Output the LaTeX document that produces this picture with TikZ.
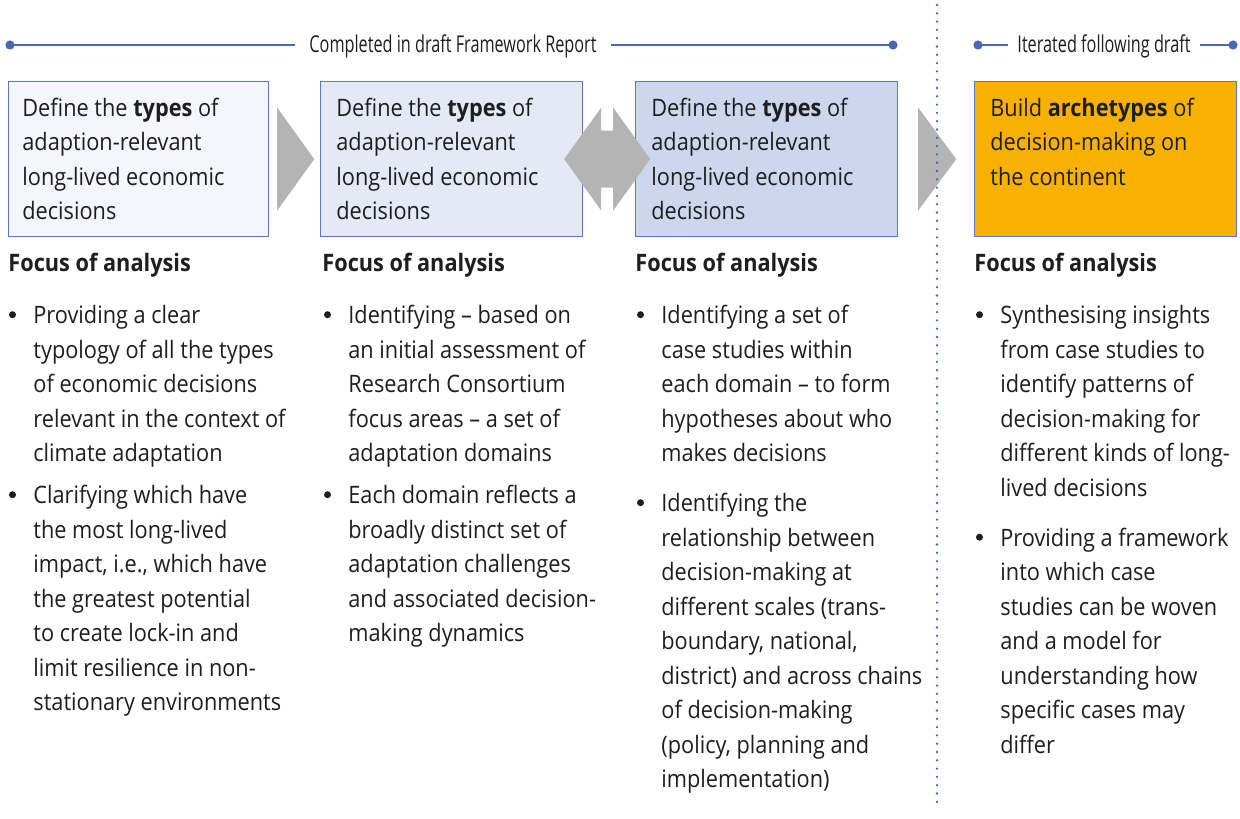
\documentclass[tikz,border=0pt]{standalone}
\usepackage{fontspec}
\setmainfont{Open Sans}[FakeStretch=0.905]
\newfontfamily\condfont{Open Sans}[FakeStretch=0.7]
\usepackage{xcolor}
\usetikzlibrary{positioning,calc}

\definecolor{lineblue}{HTML}{4A66B6}
\definecolor{boxblue}{HTML}{5C78C2}
\definecolor{fillA}{HTML}{F4F6FB}
\definecolor{fillB}{HTML}{E4E9F5}
\definecolor{fillC}{HTML}{CCD7EE}
\definecolor{fillD}{HTML}{F8B100}
\definecolor{arrgray}{HTML}{B4B4B4}
\definecolor{txtcol}{HTML}{1E1E1E}

\tikzset{
    box/.style={draw=boxblue, line width=0.6pt, anchor=north west, minimum width=131pt, minimum height=77.5pt, inner sep=0pt},
    boxtext/.style={anchor=north west, align=left, inner sep=0pt, text=txtcol, font=\fontsize{12}{17.25}\selectfont},
    head/.style={anchor=base west, inner sep=0pt, text=txtcol, font=\fontsize{12}{17.25}\selectfont\bfseries},
    item/.style={boxtext},
    bul/.style={circle, fill=txtcol, inner sep=0pt, minimum size=3.5pt},
    hdr/.style={anchor=base, inner xsep=7pt, inner ysep=0pt, text=txtcol, font=\condfont\fontsize{11.6}{13}\selectfont},
    hdrline/.style={lineblue, line width=1.25pt},
    hdrdot/.style={circle, fill=lineblue, inner sep=0pt, minimum size=4.6pt},
    garrow/.style={fill=arrgray},
}

\begin{document}
\begin{tikzpicture}[x=0.5pt,y=-0.5pt]
    \useasboundingbox (0,0) rectangle (1240,818);

    % headers
    \node[hdr] (hdrA) at (453,53) {Completed in draft Framework Report};
    \node[hdr, inner xsep=4.5pt] (hdrB) at (1104,53) {Iterated following draft};
    \node[hdrdot] (dA1) at (10,45) {};
    \node[hdrdot] (dA2) at (893,45) {};
    \node[hdrdot] (dB1) at (978,45) {};
    \node[hdrdot] (dB2) at (1233,45) {};
    \draw[hdrline] (dA1.center) -- (hdrA.west |- dA1);
    \draw[hdrline] (hdrA.east |- dA2) -- (dA2.center);
    \draw[hdrline] (dB1.center) -- (hdrB.west |- dB1);
    \draw[hdrline] (hdrB.east |- dB2) -- (dB2.center);

    % boxes
    \node[box, fill=fillA, minimum width=130pt] (box1) at (8,81) {};
    \node[box, fill=fillB] (box2) at (320,81) {};
    \node[box, fill=fillC] (box3) at (635,81) {};
    \node[box, fill=fillD] (box4) at (974,81) {};

    \node[boxtext] (t1) at ([shift={(14,16.7)}]box1.north west) {Define the \textbf{types} of\\adaption-relevant\\long-lived economic\\decisions};
    \node[boxtext] (t2) at ([shift={(16,16.7)}]box2.north west) {Define the \textbf{types} of\\adaption-relevant\\long-lived economic\\decisions};
    \node[boxtext] (t3) at ([shift={(16,16.7)}]box3.north west) {Define the \textbf{types} of\\adaption-relevant\\long-lived economic\\decisions};
    \node[boxtext] (t4) at ([shift={(16,16.7)}]box4.north west) {Build \textbf{archetypes} of\\decision-making on\\the continent};

    % block arrows
    \fill[garrow] ([shift={(8,-51.5)}]box1.east) -- ([shift={(45,0)}]box1.east) -- ([shift={(8,51.5)}]box1.east) -- cycle;
    \fill[garrow] ([shift={(-19,0)}]box2.east) -- ([shift={(18,-51.5)}]box2.east) -- ([shift={(18,-28.5)}]box2.east)
        -- ([shift={(30,-28.5)}]box2.east) -- ([shift={(30,-51.5)}]box2.east) -- ([shift={(67,0)}]box2.east)
        -- ([shift={(30,51.5)}]box2.east) -- ([shift={(30,28.5)}]box2.east) -- ([shift={(18,28.5)}]box2.east)
        -- ([shift={(18,51.5)}]box2.east) -- cycle;
    \fill[garrow] ([shift={(20,-51.5)}]box3.east) -- ([shift={(58,0)}]box3.east) -- ([shift={(20,51.5)}]box3.east) -- cycle;

    % divider
    \coordinate (vtop) at (937,5);
    \coordinate (vbot) at (937,806);
    \draw[lineblue, line width=1.3pt, line cap=round, dash pattern=on 0pt off 4.15pt] (vtop) -- (vbot);

    % focus headings
    \node[head] (f1) at (8,271) {Focus of analysis};
    \node[head] (f2) at (322,271) {Focus of analysis};
    \node[head] (f3) at (635,271) {Focus of analysis};
    \node[head] (f4) at (974,271) {Focus of analysis};

    % bullet items
    \node[item] (c1a) at (33,305) {Providing a clear\\typology of all the types\\of economic decisions\\relevant in the context of\\climate adaptation};
    \node[item] (c1b) at (33,485) {Clarifying which have\\the most long-lived\\impact, i.e., which have\\the greatest potential\\to create lock-in and\\limit resilience in non-\\stationary environments};
    \node[item] (c2a) at (348,305) {Identifying – based on\\an initial assessment of\\Research Consortium\\focus areas – a set of\\adaptation domains};
    \node[item] (c2b) at (348,485) {Each domain reflects a\\broadly distinct set of\\adaptation challenges\\and associated decision-\\making dynamics};
    \node[item] (c3a) at (661,305) {Identifying a set of\\case studies within\\each domain – to form\\hypotheses about who\\makes decisions};
    \node[item] (c3b) at (661,493) {Identifying the\\relationship between\\decision-making at\\different scales (trans-\\boundary, national,\\district) and across chains\\of decision-making\\(policy, planning and\\implementation)};
    \node[item] (c4a) at (1000,305) {Synthesising insights\\from case studies to\\identify patterns of\\decision-making for\\different kinds of long-\\lived decisions};
    \node[item] (c4b) at (1000,527.5) {Providing a framework\\into which case\\studies can be woven\\and a model for\\understanding how\\specific cases may\\differ};

    \foreach \c in {c1a,c1b,c2a,c2b,c3a,c3b,c4a,c4b}
        \node[bul] at ([shift={(-20.5,9.7)}]\c.north west) {};
\end{tikzpicture}
\end{document}
